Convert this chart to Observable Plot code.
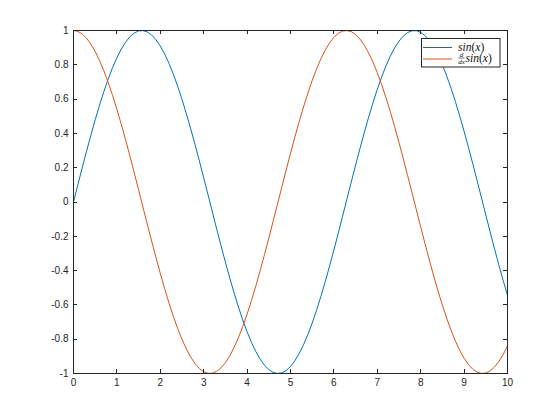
<!DOCTYPE html>
<html><head><meta charset="utf-8">
<script src="https://cdn.jsdelivr.net/npm/d3@7"></script>
<script src="https://cdn.jsdelivr.net/npm/@observablehq/plot@0.6"></script>
<style>body{margin:0;background:#fff}#chart{width:560px;height:420px}</style>
</head><body><div id="chart"></div>
<script>
const xValues = [0,0.1,0.2,0.3,0.4,0.5,0.6,0.7,0.8,0.9,1,1.1,1.2,1.3,1.4,1.5,1.6,1.7,1.8,1.9,2,2.1,2.2,2.3,2.4,2.5,2.6,2.7,2.8,2.9,3,3.1,3.2,3.3,3.4,3.5,3.6,3.7,3.8,3.9,4,4.1,4.2,4.3,4.4,4.5,4.6,4.7,4.8,4.9,5,5.1,5.2,5.3,5.4,5.5,5.6,5.7,5.8,5.9,6,6.1,6.2,6.3,6.4,6.5,6.6,6.7,6.8,6.9,7,7.1,7.2,7.3,7.4,7.5,7.6,7.7,7.8,7.9,8,8.1,8.2,8.3,8.4,8.5,8.6,8.7,8.8,8.9,9,9.1,9.2,9.3,9.4,9.5,9.6,9.7,9.8,9.9,10];
const sinValues = [0,0.0998,0.1987,0.2955,0.3894,0.4794,0.5646,0.6442,0.7174,0.7833,0.8415,0.8912,0.932,0.9636,0.9854,0.9975,0.9996,0.9917,0.9738,0.9463,0.9093,0.8632,0.8085,0.7457,0.6755,0.5985,0.5155,0.4274,0.335,0.2392,0.1411,0.0416,-0.0584,-0.1577,-0.2555,-0.3508,-0.4425,-0.5298,-0.6119,-0.6878,-0.7568,-0.8183,-0.8716,-0.9162,-0.9516,-0.9775,-0.9937,-0.9999,-0.9962,-0.9825,-0.9589,-0.9258,-0.8835,-0.8323,-0.7728,-0.7055,-0.6313,-0.5507,-0.4646,-0.3739,-0.2794,-0.1822,-0.0831,0.0168,0.1165,0.2151,0.3115,0.4048,0.4941,0.5784,0.657,0.729,0.7937,0.8504,0.8987,0.938,0.9679,0.9882,0.9985,0.9989,0.9894,0.9699,0.9407,0.9022,0.8546,0.7985,0.7344,0.663,0.5849,0.501,0.4121,0.319,0.2229,0.1245,0.0248,-0.0752,-0.1743,-0.2718,-0.3665,-0.4575,-0.544];
const dsinValues = [1,0.995,0.9801,0.9553,0.9211,0.8776,0.8253,0.7648,0.6967,0.6216,0.5403,0.4536,0.3624,0.2675,0.17,0.0707,-0.0292,-0.1288,-0.2272,-0.3233,-0.4161,-0.5048,-0.5885,-0.6663,-0.7374,-0.8011,-0.8569,-0.9041,-0.9422,-0.971,-0.99,-0.9991,-0.9983,-0.9875,-0.9668,-0.9365,-0.8968,-0.8481,-0.791,-0.7259,-0.6536,-0.5748,-0.4903,-0.4008,-0.3073,-0.2108,-0.1122,-0.0124,0.0875,0.1865,0.2837,0.378,0.4685,0.5544,0.6347,0.7087,0.7756,0.8347,0.8855,0.9275,0.9602,0.9833,0.9965,0.9999,0.9932,0.9766,0.9502,0.9144,0.8694,0.8157,0.7539,0.6845,0.6084,0.5261,0.4385,0.3466,0.2513,0.1534,0.054,-0.046,-0.1455,-0.2435,-0.3392,-0.4314,-0.5193,-0.602,-0.6787,-0.7486,-0.8111,-0.8654,-0.9111,-0.9478,-0.9748,-0.9922,-0.9997,-0.9972,-0.9847,-0.9624,-0.9304,-0.8892,-0.8391];
const seriesColors = ["#0072BD", "#D95319"];
const xTicks = [0,1,2,3,4,5,6,7,8,9,10];
const xTickLabels = ["0","1","2","3","4","5","6","7","8","9","10"];
const yTicks = [-1,-0.8,-0.6,-0.4,-0.2,0,0.2,0.4,0.6,0.8,1];
const yTickLabels = ["-1","-0.8","-0.6","-0.4","-0.2","0","0.2","0.4","0.6","0.8","1"];

const rows = xValues.map((x, i) => ({x, sin: sinValues[i], dsin: dsinValues[i]}));
const axisColor = "#262626";

const chart = Plot.plot({
  width: 560, height: 420,
  marginLeft: 73, marginRight: 53, marginTop: 30, marginBottom: 47,
  style: {fontFamily: "'Liberation Sans', Arial, sans-serif", fontSize: "10px", color: axisColor, background: "#fff"},
  x: {domain: [0, 10], label: null},
  y: {domain: [-1, 1], label: null},
  marks: [
    Plot.line(rows, {x: "x", y: "sin", stroke: seriesColors[0], strokeWidth: 1}),
    Plot.line(rows, {x: "x", y: "dsin", stroke: seriesColors[1], strokeWidth: 1}),
    Plot.axisX({ticks: xTicks, tickSize: 0, tickPadding: 5, tickFormat: d => xTickLabels[xTicks.indexOf(d)], fill: axisColor, fontSize: 10}),
    Plot.axisY({ticks: yTicks, tickSize: 0, tickPadding: 5, tickFormat: d => yTickLabels[yTicks.indexOf(d)], fill: axisColor, fontSize: 10}),
    Plot.frame({stroke: axisColor, strokeWidth: 1})
  ]
});
document.getElementById("chart").appendChild(chart);

// inward ticks on all four sides (MATLAB style)
const sx = chart.scale("x"), sy = chart.scale("y");
const svg = d3.select(chart);
const x0 = sx.apply(0), x1 = sx.apply(10), y0 = sy.apply(-1), y1 = sy.apply(1);
const tl = 4;
const tg = svg.append("g").attr("stroke", axisColor).attr("stroke-width", 1);
xTicks.forEach(v => {
  const px = Math.round(sx.apply(v)) + 0.5;
  tg.append("line").attr("x1", px).attr("x2", px).attr("y1", y0).attr("y2", y0 - tl);
  tg.append("line").attr("x1", px).attr("x2", px).attr("y1", y1).attr("y2", y1 + tl);
});
yTicks.forEach(v => {
  const py = Math.round(sy.apply(v)) + 0.5;
  tg.append("line").attr("y1", py).attr("y2", py).attr("x1", x0).attr("x2", x0 + tl);
  tg.append("line").attr("y1", py).attr("y2", py).attr("x1", x1).attr("x2", x1 - tl);
});

// legend
const lg = svg.append("g").attr("transform", "translate(421,38)").attr("text-anchor", "start");
lg.append("rect").attr("x", 0.5).attr("y", 0.5).attr("width", 78.5).attr("height", 28.5)
  .attr("fill", "#fff").attr("stroke", axisColor).attr("stroke-width", 1);
lg.append("line").attr("x1", 2).attr("x2", 31).attr("y1", 9.5).attr("y2", 9.5).attr("stroke", seriesColors[0]).attr("stroke-width", 1);
lg.append("line").attr("x1", 2).attr("x2", 31).attr("y1", 21).attr("y2", 21).attr("stroke", seriesColors[1]).attr("stroke-width", 1);
const mathFont = "'Liberation Serif', 'DejaVu Serif', serif";
const t1 = lg.append("text").attr("x", 37).attr("y", 12.5).attr("text-anchor", "start").attr("font-family", mathFont).attr("font-size", 11.5).attr("fill", "#111");
t1.append("tspan").attr("font-style", "italic").text("sin");
t1.append("tspan").text("(");
t1.append("tspan").attr("font-style", "italic").text("x");
t1.append("tspan").text(")");
lg.append("text").attr("x", 40.5).attr("y", 19).attr("text-anchor", "middle").attr("font-family", mathFont).attr("font-style", "italic").attr("font-size", 7).attr("fill", "#111").text("d");
lg.append("line").attr("x1", 37.5).attr("x2", 43.5).attr("y1", 20).attr("y2", 20).attr("stroke", "#111").attr("stroke-width", 0.6);
lg.append("text").attr("x", 40.5).attr("y", 25.5).attr("text-anchor", "middle").attr("font-family", mathFont).attr("font-style", "italic").attr("font-size", 7).attr("fill", "#111").text("dx");
const t2 = lg.append("text").attr("x", 44.5).attr("y", 24).attr("text-anchor", "start").attr("font-family", mathFont).attr("font-size", 11.5).attr("fill", "#111");
t2.append("tspan").attr("font-style", "italic").text("sin");
t2.append("tspan").text("(");
t2.append("tspan").attr("font-style", "italic").text("x");
t2.append("tspan").text(")");
</script>
</body></html>
